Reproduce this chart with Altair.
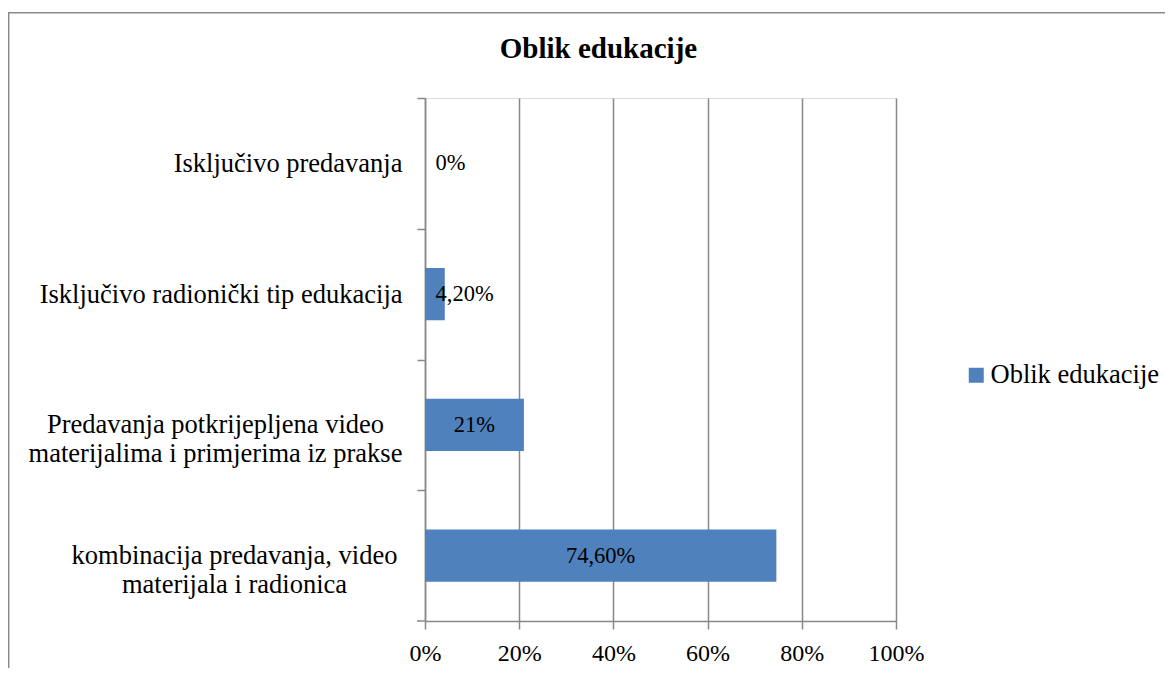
import altair as alt
import pandas as pd

# ---- data ----
categories = [
    "Isključivo predavanja",
    "Isključivo radionički tip edukacija",
    "Predavanja potkrijepljena video\nmaterijalima i primjerima iz prakse",
    "kombinacija predavanja, video\nmaterijala i radionica",
]
values = [0, 4.2, 21, 74.6]
value_labels = ["0%", "4,20%", "21%", "74,60%"]
series_name = "Oblik edukacije"
x_ticks = [0, 20, 40, 60, 80, 100]

df = pd.DataFrame({
    "category": categories,
    "value": values,
    "label": value_labels,
    "series": [series_name] * len(categories),
})

FONT = "Liberation Serif"
GRAY = "#898989"
BLUE = "#4F81BD"

W, H = 471, 523
STEP = H / 4.0
PAD = {"left": 417, "top": 90, "right": 269, "bottom": 47}

y_enc = alt.Y(
    "category:N",
    sort=categories,
    scale=alt.Scale(paddingInner=0.6, paddingOuter=0.3),
    axis=alt.Axis(
        title=None,
        grid=False,
        tickOffset=-STEP / 2,
        labelOffset=STEP / 2,
        tickSize=8,
        tickColor=GRAY,
        tickWidth=1.5,
        domainColor=GRAY,
        domainWidth=1.5,
        labelFont=FONT,
        labelFontSize=26.5,
        labelColor="black",
        labelLimit=600,
        labelLineHeight=29,
        labelBaseline="middle",
        labelExpr="split(datum.label, '\\n')",
        labelAlign={
            "condition": {"test": "isString(datum.value) && indexof(datum.value, '\\n') >= 0", "value": "center"},
            "value": "right",
        },
        labelPadding={
            "condition": [
                {"test": "isString(datum.value) && indexof(datum.value, 'Predavanja') === 0", "value": 202},
                {"test": "isString(datum.value) && indexof(datum.value, 'kombinacija') === 0", "value": 183},
            ],
            "value": 15,
        },
    ),
)

x_scale = alt.Scale(domain=[0, 100], nice=False)
x_axis = alt.Axis(
    title=None,
    values=x_ticks,
    labelExpr="datum.value + '%'",
    labelFlush=False,
    grid=True,
    gridColor=GRAY,
    gridWidth=1.5,
    domainColor=GRAY,
    domainWidth=1.5,
    tickColor=GRAY,
    tickWidth=1.5,
    tickSize=8,
    labelPadding=12,
    labelFont=FONT,
    labelFontSize=24,
    labelColor="black",
)

border = alt.Chart(df).transform_aggregate(n="count()").mark_rect(
    fillOpacity=0, stroke=GRAY, strokeWidth=1.5
).encode(
    x=alt.value(-416.3),
    x2=alt.value(W + 400),
    y=alt.value(-85.3),
    y2=alt.value(H + 200),
)

# closing tick of the category axis at its bottom end
end_tick = alt.Chart(df).transform_aggregate(n="count()").mark_rule(
    color=GRAY, strokeWidth=1.5
).encode(
    x=alt.value(-8),
    x2=alt.value(0),
    y=alt.value(H),
)

bars = alt.Chart(df).mark_bar().encode(
    x=alt.X("value:Q", scale=x_scale, axis=x_axis),
    y=y_enc,
    color=alt.Color(
        "series:N",
        scale=alt.Scale(range=[BLUE]),
        legend=alt.Legend(
            title=None,
            orient="none",
            legendX=538,
            legendY=264,
            padding=0,
            symbolType="square",
            symbolSize=225,
            symbolStrokeWidth=0,
            labelFont=FONT,
            labelFontSize=26.5,
            labelColor="black",
            labelOffset=1,
            labelLimit=400,
        ),
    ),
)

labels_center = alt.Chart(df).transform_filter("datum.value >= 10").transform_calculate(
    mid="datum.value / 2"
).mark_text(font=FONT, fontSize=22.5, color="black", align="center", baseline="middle").encode(
    x=alt.X("mid:Q", scale=x_scale),
    y=alt.Y("category:N", sort=categories),
    text="label:N",
)

labels_small = alt.Chart(df).transform_filter("datum.value < 10").transform_calculate(
    base="0"
).mark_text(font=FONT, fontSize=22.5, color="black", align="left", baseline="middle", dx=10.5).encode(
    x=alt.X("base:Q", scale=x_scale),
    y=alt.Y("category:N", sort=categories),
    text="label:N",
)

chart = alt.layer(border, bars, end_tick, labels_center, labels_small).properties(
    width=W,
    height=H,
    padding=PAD,
    autosize=alt.AutoSizeParams(type="none"),
    title=alt.TitleParams(
        "Oblik edukacije",
        font=FONT,
        fontSize=29,
        fontWeight="bold",
        color="black",
        anchor="middle",
        frame="group",
        dx=-62,
        offset=-75,
        baseline="alphabetic",
    ),
).configure_view(strokeWidth=0).configure(background="white")

chart.save("out.html", embed_options={"renderer": "svg", "actions": False})
